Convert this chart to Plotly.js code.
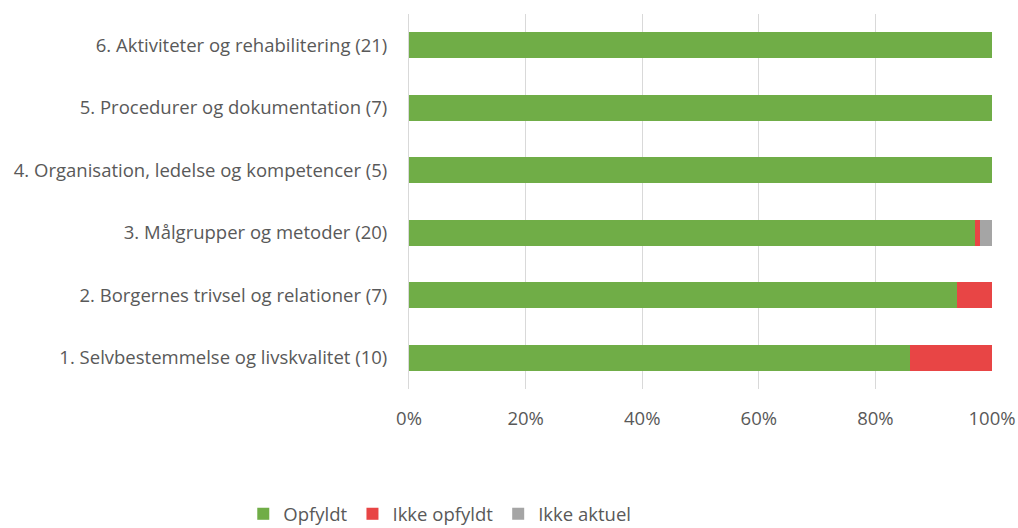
<!DOCTYPE html>
<html>
<head>
<meta charset="utf-8">
<script src="https://cdn.plot.ly/plotly-3.0.1.min.js"></script>
<style>html,body{margin:0;padding:0;background:#fff;}#chart{width:1018px;height:528px;}</style>
</head>
<body>
<div id="chart"></div>
<script>
const categories = [
  "1. Selvbestemmelse og livskvalitet (10)",
  "2. Borgernes trivsel og relationer (7)",
  "3. Målgrupper og metoder (20)",
  "4. Organisation, ledelse og kompetencer (5)",
  "5. Procedurer og dokumentation (7)",
  "6. Aktiviteter og rehabilitering (21)"
];
const opfyldt = [0.86, 0.94, 0.97, 1.0, 1.0, 1.0];
const ikkeOpfyldt = [0.14, 0.06, 0.01, 0, 0, 0];
const ikkeAktuel = [0, 0, 0.02, 0, 0, 0];
const tickVals = [0, 0.2, 0.4, 0.6, 0.8, 1.0];
const tickText = ["0%", "20%", "40%", "60%", "80%", "100%"];

const font = {family: "Open Sans, sans-serif", size: 18.5, color: "#595959"};
const traces = [
  {name: "Opfyldt", x: opfyldt, y: categories, color: "#70ad47"},
  {name: "Ikke opfyldt", x: ikkeOpfyldt, y: categories, color: "#e84545"},
  {name: "Ikke aktuel", x: ikkeAktuel, y: categories, color: "#a5a5a5"}
].map(t => ({type: "bar", orientation: "h", name: t.name, x: t.x, y: t.y,
  marker: {color: t.color, line: {width: 0}}, hoverinfo: "x+name"}));

const layout = {
  width: 1018, height: 528,
  margin: {l: 409, r: 26, t: 14, b: 139},
  barmode: "stack", bargap: 0.58,
  font: font,
  paper_bgcolor: "#fff", plot_bgcolor: "#fff",
  xaxis: {range: [0, 1], tickvals: tickVals, ticktext: tickText,
    showgrid: true, gridcolor: "#d9d9d9", gridwidth: 1, zeroline: false,
    showline: false, ticks: "", ticklen: 0, ticklabelstandoff: 16, tickfont: font, fixedrange: true},
  yaxis: {type: "category", showline: true, linecolor: "#d9d9d9", linewidth: 1,
    ticks: "", ticklabelstandoff: 17, tickfont: font, showgrid: false, fixedrange: true},
  showlegend: true,
  legend: {orientation: "h", x: 0.432, xref: "container", xanchor: "center",
    y: 0.062, yref: "container", yanchor: "top",
    font: font, traceorder: "normal", itemwidth: 30},
};
Plotly.newPlot("chart", traces, layout, {displayModeBar: false, staticPlot: true});
</script>
</body>
</html>
